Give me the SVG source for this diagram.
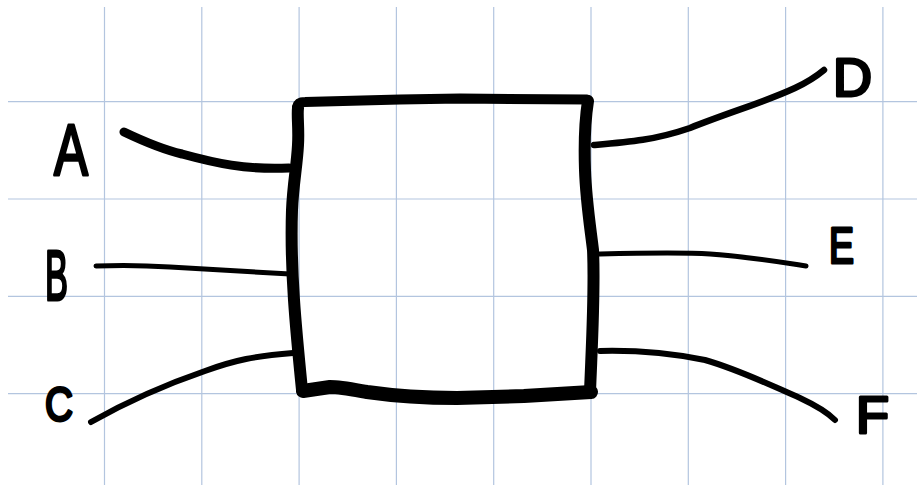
<svg xmlns="http://www.w3.org/2000/svg" width="917" height="485" viewBox="0 0 917 485">
  <style>
    .grid line { stroke: #b3c5df; stroke-width: 1.2; }
    .ink { fill: none; stroke: #000; stroke-linecap: round; stroke-linejoin: round; }
    .lbl { font-family: "Liberation Sans", "DejaVu Sans", sans-serif; font-weight: normal; fill: #000; stroke: #000; stroke-width: 3; stroke-linejoin: round; }
  </style>
  <rect width="917" height="485" fill="#fff"/>
  <g class="grid">
    <line x1="104.5" y1="7" x2="104.5" y2="485"/>
    <line x1="201.8" y1="7" x2="201.8" y2="485"/>
    <line x1="299.1" y1="7" x2="299.1" y2="485"/>
    <line x1="396.4" y1="7" x2="396.4" y2="485"/>
    <line x1="493.7" y1="7" x2="493.7" y2="485"/>
    <line x1="591" y1="7" x2="591" y2="485"/>
    <line x1="688.3" y1="7" x2="688.3" y2="485"/>
    <line x1="785.6" y1="7" x2="785.6" y2="485"/>
    <line x1="882.9" y1="7" x2="882.9" y2="485"/>
    <line x1="8" y1="101.7" x2="917" y2="101.7"/>
    <line x1="8" y1="199" x2="917" y2="199"/>
    <line x1="8" y1="296.3" x2="917" y2="296.3"/>
    <line x1="8" y1="393.6" x2="917" y2="393.6"/>
  </g>
  <g id="box">
    <path class="ink" stroke-width="10" d="M298,116 L297,107 Q298,102 305,102 L400,99.5 L460,98.5 L587,99.5"/>
    <path class="ink" stroke-width="12" d="M588,101 C585,120 584,140 585,170 C586,200 590,225 593,250 C595,290 592,340 590,392"/>
    <path class="ink" stroke-width="14" d="M591,392 L524,396 L457,398 C420,398 395,396 367,392 C350,389 340,387 330,387 L303,391"/>
    <path class="ink" stroke-width="12" d="M302,390 C299,360 296,330 294,300 C292,270 291,240 292,210 C293,185 297,165 298,145 C299,128 297,116 298,108"/>
  </g>
  <g id="connectors">
    <path id="wA" class="ink" stroke-width="9" d="M124,132 C145,142 165,150 182,154 C215,163 245,170 289,168"/>
    <path id="wB" class="ink" stroke-width="5" d="M96,266 C120,265 140,265 170,267 C220,270 255,272 290,274"/>
    <path id="wC" class="ink" stroke-width="6" d="M91,422 C130,400 170,383 205,371 C235,360 255,356 293,353"/>
    <path id="wD" class="ink" stroke-width="6.5" d="M594,145 C630,142 655,140 690,128 C730,112 765,102 795,88 C810,81 818,75 824,70"/>
    <path id="wE" class="ink" stroke-width="5" d="M598,254 C640,253 680,252 710,254 C750,257 780,262 806,266"/>
    <path id="wF" class="ink" stroke-width="6" d="M600,351 C640,350 670,353 705,360 C740,370 770,385 800,398 C815,405 827,412 835,420"/>
  </g>
  <g id="labels">
    <g id="nA"><text class="lbl" x="54" y="175" font-size="73" textLength="34" lengthAdjust="spacingAndGlyphs">A</text></g>
    <g id="nB"><text class="lbl" x="45" y="300" font-size="70" textLength="23" lengthAdjust="spacingAndGlyphs">B</text></g>
    <g id="nC"><text class="lbl" x="45" y="421" font-size="49" textLength="28" lengthAdjust="spacingAndGlyphs">C</text></g>
    <g id="nD"><text class="lbl" x="833" y="96" font-size="54" textLength="39" lengthAdjust="spacingAndGlyphs">D</text></g>
    <g id="nE"><text class="lbl" x="829" y="263" font-size="50" textLength="25" lengthAdjust="spacingAndGlyphs">E</text></g>
    <g id="nF"><text class="lbl" x="856" y="433" font-size="51" textLength="33" lengthAdjust="spacingAndGlyphs">F</text></g>
  </g>
</svg>
